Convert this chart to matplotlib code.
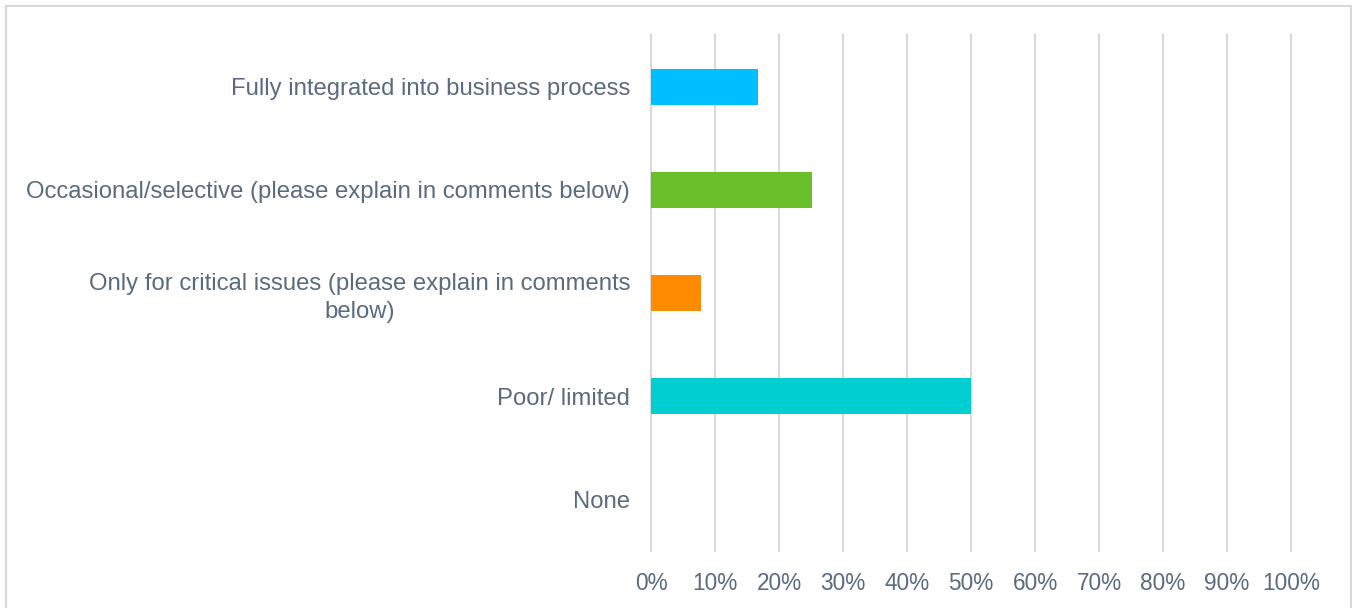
import matplotlib
matplotlib.use("Agg")
import matplotlib.pyplot as plt
from matplotlib.lines import Line2D

categories = [
    "Fully integrated into business process",
    "Occasional/selective (please explain in comments below)",
    "Only for critical issues (please explain in comments\nbelow)",
    "Poor/ limited",
    "None",
]
values = [16.7, 25.1, 7.8, 50.0, 0.0]
colors = ["#00BFFF", "#6ABE2A", "#FF8C00", "#00CED1", "#4F81BD"]
xticks = [0, 10, 20, 30, 40, 50, 60, 70, 80, 90, 100]
xtick_labels = [f"{t}%" for t in xticks]

text_color = "#5A6B7D"
grid_color = "#D9D9D9"

plt.rcParams["font.family"] = ["Liberation Sans", "DejaVu Sans"]

W, H = 1358, 608
fig = plt.figure(figsize=(W / 100, H / 100), dpi=100)
ax = fig.add_axes([651 / W, 1 - 551 / H, 640 / W, 516 / H])

ypos = list(range(len(categories)))
ax.barh(ypos, values, height=0.35, color=colors, zorder=3)
ax.set_ylim(len(categories) - 0.5, -0.5)
ax.set_xlim(0, 100)

ax.set_yticks(ypos)
ax.set_yticklabels(categories, fontsize=17.2, color=text_color,
                   multialignment="center", linespacing=1.35)
ax.set_xticks(xticks)
ax.set_xticklabels(xtick_labels, fontsize=16.3, color=text_color)
ax.tick_params(axis="y", length=0, pad=15)
ax.tick_params(axis="x", length=0, pad=15)

ax.grid(axis="y", visible=False)
for t in xticks:
    ax.axvline(t, color=grid_color, linewidth=1.5, zorder=0, clip_on=False)
for s in ax.spines.values():
    s.set_visible(False)

# outer frame (left, top, right)
frame_kw = dict(color=grid_color, linewidth=1.5, transform=fig.transFigure)
x0, x1, y1 = 6 / W, 1351 / W, 1 - 6 / H
fig.add_artist(Line2D([x0, x0], [0, y1], **frame_kw))
fig.add_artist(Line2D([x0, x1], [y1, y1], **frame_kw))
fig.add_artist(Line2D([x1, x1], [0, y1], **frame_kw))

fig.savefig("out.png", dpi=100, facecolor="white")
